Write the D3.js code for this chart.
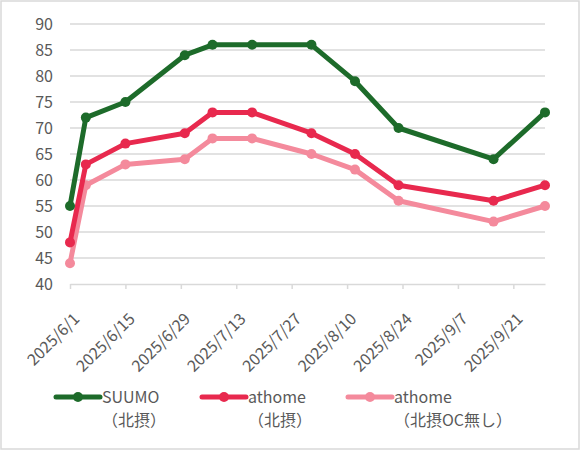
<!DOCTYPE html>
<html>
<head>
<meta charset="utf-8">
<script src="https://cdn.jsdelivr.net/npm/d3@7"></script>
<style>
  body { margin: 0; background: #fff; }
  svg text { font-family: "Noto Sans CJK JP", "Noto Sans", sans-serif; fill: #595959; }
</style>
</head>
<body>
<div id="chart"></div>
<script>
// data
var dates = ["2025-06-01", "2025-06-05", "2025-06-15", "2025-06-30", "2025-07-07", "2025-07-17",
  "2025-08-01", "2025-08-12", "2025-08-23", "2025-09-16", "2025-09-29"];
var suumo = [55, 72, 75, 84, 86, 86, 86, 79, 70, 64, 73];
var athome = [48, 63, 67, 69, 73, 73, 69, 65, 59, 56, 59];
var athomeNoOC = [44, 59, 63, 64, 68, 68, 65, 62, 56, 52, 55];
var tickDates = ["2025-06-01", "2025-06-15", "2025-06-29", "2025-07-13", "2025-07-27",
  "2025-08-10", "2025-08-24", "2025-09-07", "2025-09-21"];
var yTicks = [40, 45, 50, 55, 60, 65, 70, 75, 80, 85, 90];
var seriesNames = [["SUUMO", "（北摂）"], ["athome", "（北摂）"], ["athome", "（北摂OC無し）"]];
var colors = ["#1d6b2a", "#e8294e", "#f48a9c"];

var width = 582;
var height = 452;
var margin = { top: 24, right: 37, bottom: 168, left: 70 };

var parse = d3.timeParse("%Y-%m-%d");
var fmt = d3.timeFormat("%Y/%-m/%-d");

var svg = d3.select("#chart").append("svg")
  .attr("width", width)
  .attr("height", height);

// outer frame
svg.append("rect")
  .attr("x", 1).attr("y", 1)
  .attr("width", width - 4).attr("height", height - 4)
  .attr("fill", "#fff")
  .attr("stroke", "#d9d9d9")
  .attr("stroke-width", 1.5);

var x = d3.scaleTime()
  .domain([parse(dates[0]), parse(dates[dates.length - 1])])
  .range([margin.left, width - margin.right]);

var y = d3.scaleLinear()
  .domain([40, 90])
  .range([height - margin.bottom, margin.top]);

// grid
svg.append("g")
  .selectAll("line")
  .data(yTicks.slice(1))
  .join("line")
  .attr("x1", margin.left)
  .attr("x2", width - margin.right)
  .attr("y1", (d) => y(d))
  .attr("y2", (d) => y(d))
  .attr("stroke", "#d9d9d9")
  .attr("stroke-width", 1.4);

// y axis labels
svg.append("g")
  .call(d3.axisLeft(y).tickValues(yTicks).tickSize(0).tickPadding(0))
  .attr("transform", `translate(${margin.left - 17}, 0)`)
  .call((g) => g.select(".domain").remove())
  .selectAll("text")
  .style("font-size", "16px")
  .attr("dy", "0.35em");

// x axis
var xAxis = svg.append("g")
  .attr("transform", `translate(0, ${y(40)})`)
  .call(d3.axisBottom(x).tickValues(tickDates.map(parse)).tickFormat(fmt).tickSize(5).tickSizeOuter(0));
xAxis.select(".domain").attr("stroke", "#d9d9d9").attr("stroke-width", 1.5);
xAxis.selectAll(".tick line").attr("stroke", "#d9d9d9").attr("stroke-width", 1.5);
xAxis.selectAll(".tick text")
  .style("font-size", "16px")
  .attr("text-anchor", "end")
  .attr("x", 0)
  .attr("y", 0)
  .attr("dy", "0")
  .attr("transform", "translate(10,36) rotate(-45)");

// lines
var allSeries = [suumo, athome, athomeNoOC];
var line = d3.line()
  .x((d, i) => x(parse(dates[i])))
  .y((d) => y(d));

// draw back to front: pink, red, green
[2, 1, 0].forEach(function (s) {
  var g = svg.append("g");
  g.append("path")
    .datum(allSeries[s])
    .attr("fill", "none")
    .attr("stroke", colors[s])
    .attr("stroke-width", 5)
    .attr("stroke-linejoin", "round")
    .attr("d", line);
  g.selectAll("circle")
    .data(allSeries[s])
    .join("circle")
    .attr("cx", (d, i) => x(parse(dates[i])))
    .attr("cy", (d) => y(d))
    .attr("r", 5)
    .attr("fill", colors[s]);
});

// legend
var legend = svg.append("g")
  .selectAll("g")
  .data(seriesNames)
  .join("g")
  .attr("transform", (d, i) => `translate(${56 + i * 146}, 397)`);

legend.append("line")
  .attr("x1", 0).attr("x2", 44)
  .attr("stroke", (d, i) => colors[i])
  .attr("stroke-width", 5)
  .attr("stroke-linecap", "round");
legend.append("circle")
  .attr("cx", 22).attr("r", 5)
  .attr("fill", (d, i) => colors[i]);
legend.append("text")
  .attr("x", 46)
  .attr("y", 6)
  .style("font-size", "16px")
  .text((d) => d[0]);
legend.append("text")
  .attr("x", 46)
  .attr("y", 29)
  .style("font-size", "16px")
  .text((d) => d[1]);
</script>
</body>
</html>
